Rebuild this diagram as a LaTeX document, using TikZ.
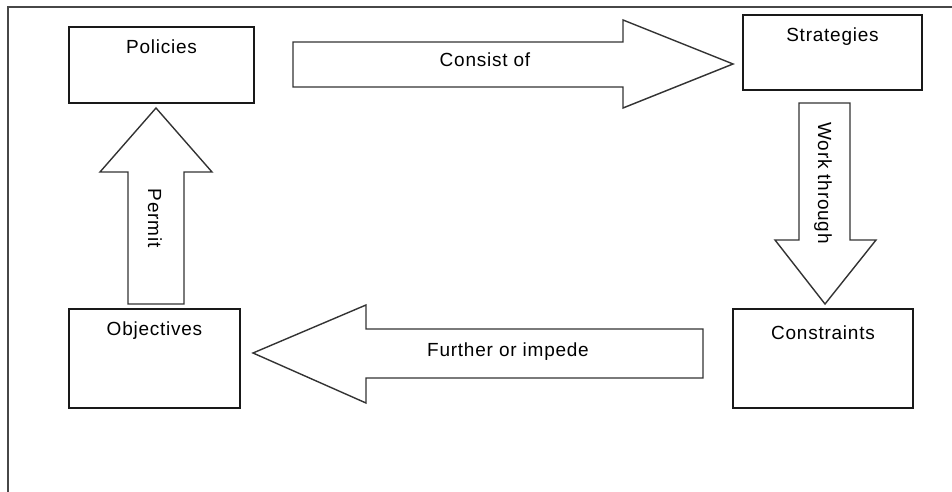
\documentclass[tikz,border=0pt]{standalone}
\usepackage{fontspec}
\setmainfont[LetterSpace=4]{Liberation Sans}
\usetikzlibrary{calc}
\begin{document}
\begin{tikzpicture}[x=1pt,y=-1pt,
  box/.style={draw=black!90,line width=1.5pt,rectangle,inner sep=0pt},
  blockarrow/.style={draw=black!80,line width=1.4pt,fill=white,line join=miter},
  lbl/.style={font=\fontsize{19}{22}\selectfont,text=black,inner sep=0pt,anchor=base},
  vlbl/.style={font=\fontsize{19}{22}\selectfont,text=black,inner sep=0pt,rotate=-90,anchor=center}]
\useasboundingbox (0,0) rectangle (952,492);
\fill[white] (0,0) rectangle (952,492);
% frame
\draw[black!72,line width=2pt] (952,7) -- (8,7) -- (8,492);
% boxes
\node[box,minimum width=185pt,minimum height=76pt] (pol) at (161.5,65) {};
\node[box,minimum width=179pt,minimum height=75pt] (str) at (832.5,52.5) {};
\node[box,minimum width=171pt,minimum height=99pt] (obj) at (154.5,358.5) {};
\node[box,minimum width=180pt,minimum height=99pt] (con) at (823,358.5) {};
\node[lbl] (polt) at (161.5,54) {Policies};
\node[lbl] (strt) at (832.5,42) {Strategies};
\node[lbl] (objt) at (154.5,335) {Objectives};
\node[lbl] (cont) at (823,339) {Constraints};
% block arrows
\draw[blockarrow] (293,42) -- (623,42) -- (623,20) -- (733,64) -- (623,108) -- (623,87) -- (293,87) -- cycle;
\draw[blockarrow] (799,103) -- (850,103) -- (850,240) -- (876,240) -- (825,304) -- (775,240) -- (799,240) -- cycle;
\draw[blockarrow] (703,329) -- (703,378) -- (366,378) -- (366,403) -- (253,353) -- (366,305) -- (366,329) -- cycle;
\draw[blockarrow] (128,304) -- (184,304) -- (184,172) -- (212,172) -- (156,108) -- (100,172) -- (128,172) -- cycle;
% arrow labels
\node[lbl] (consist) at (485,67) {Consist of};
\node[vlbl] (work) at (823,183) {Work through};
\node[lbl] (further) at (508,356) {Further or impede};
\node[vlbl] (permit) at (155,218) {Permit};
\end{tikzpicture}
\end{document}
